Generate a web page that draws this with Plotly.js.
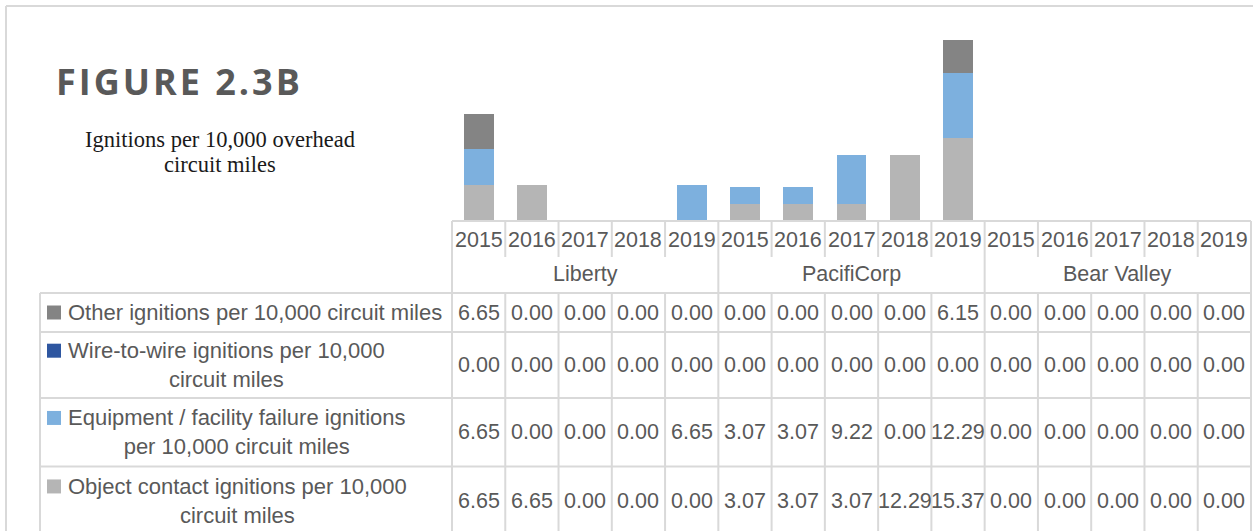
<!DOCTYPE html>
<html>
<head>
<meta charset="utf-8">
<script src="https://cdn.plot.ly/plotly-3.0.1.min.js"></script>
<style>
  html, body { margin: 0; padding: 0; background: #ffffff; }
  #chart { width: 1253px; height: 531px; }
</style>
</head>
<body>
<div id="chart"></div>
<script>
// ---------- data ----------
const companies = ['Liberty', 'PacifiCorp', 'Bear Valley'];
const years = ['2015', '2016', '2017', '2018', '2019'];

const seriesLabels = [
  'Other ignitions per 10,000 circuit miles',
  'Wire-to-wire ignitions per 10,000<br>circuit miles',
  'Equipment / facility failure ignitions<br>per 10,000 circuit miles',
  'Object contact ignitions per 10,000<br>circuit miles'
];

const otherVals  = [6.65, 0.00, 0.00, 0.00, 0.00,  0.00, 0.00, 0.00, 0.00, 6.15,   0.00, 0.00, 0.00, 0.00, 0.00];
const wireVals   = [0.00, 0.00, 0.00, 0.00, 0.00,  0.00, 0.00, 0.00, 0.00, 0.00,   0.00, 0.00, 0.00, 0.00, 0.00];
const equipVals  = [6.65, 0.00, 0.00, 0.00, 6.65,  3.07, 3.07, 9.22, 0.00, 12.29,  0.00, 0.00, 0.00, 0.00, 0.00];
const objectVals = [6.65, 6.65, 0.00, 0.00, 0.00,  3.07, 3.07, 3.07, 12.29, 15.37, 0.00, 0.00, 0.00, 0.00, 0.00];

// ---------- styling ----------
const colors = { other: '#848484', wire: '#2E56A0', equip: '#7DB0DE', object: '#B5B5B5' };
const textColor = '#595959';
const gridColor = '#D9D9D9';
const sansFont = "'Liberation Sans', Arial, sans-serif";

// table rows in display order (top to bottom)
const tableRows = [
  { label: seriesLabels[0], vals: otherVals,  color: colors.other  },
  { label: seriesLabels[1], vals: wireVals,   color: colors.wire   },
  { label: seriesLabels[2], vals: equipVals,  color: colors.equip  },
  { label: seriesLabels[3], vals: objectVals, color: colors.object }
];

// categories
const cats = [];
companies.forEach(c => years.forEach(y => cats.push(c + ' ' + y)));
const nCats = cats.length;

// ---------- geometry helpers (pixel -> paper) ----------
const W = 1253, H = 531;
const L = 452, R = 1251, T = 7, B = 220;
const px2x = px => (px - L) / (R - L);
const py2y = py => (B - py) / (B - T);
const colX = i => i / nCats; // paper x of boundary i

// ---------- traces (bottom to top) ----------
function barTrace(name, vals, color) {
  return {
    type: 'bar', name: name, x: cats, y: vals,
    marker: { color: color, line: { width: 0 } },
    hoverinfo: 'skip'
  };
}
const traces = [
  barTrace('Object contact', objectVals, colors.object),
  barTrace('Equipment / facility failure', equipVals, colors.equip),
  barTrace('Wire-to-wire', wireVals, colors.wire),
  barTrace('Other', otherVals, colors.other)
];

// ---------- table shapes ----------
const shapes = [];
const line = (x0, y0, x1, y1) => shapes.push({
  type: 'line', xref: 'paper', yref: 'paper',
  x0: x0, y0: y0, x1: x1, y1: y1,
  line: { color: gridColor, width: 2 }, layer: 'above'
});

// outer chart border (left & top)
line(px2x(6), py2y(6), px2x(6), py2y(H + 5));
line(px2x(6), py2y(6), px2x(W + 5), py2y(6));

const yAxis = 221, yTickEnd = 257, yTableTop = 293;
const rowBounds = [293, 332, 398, 466.5, 535];

// axis line
line(0, py2y(yAxis), 1, py2y(yAxis));
// table horizontal lines
for (let r = 0; r < rowBounds.length - 1; r++) {
  line(px2x(40), py2y(rowBounds[r]), 1, py2y(rowBounds[r]));
}
// row header left border
line(px2x(40), py2y(yTableTop), px2x(40), py2y(H + 5));
// vertical lines
for (let i = 0; i <= nCats; i++) {
  const x = colX(i);
  if (i % years.length === 0) {
    line(x, py2y(yAxis), x, py2y(H + 5));
  } else {
    line(x, py2y(yAxis), x, py2y(yTickEnd));
    line(x, py2y(yTableTop), x, py2y(H + 5));
  }
}

// ---------- annotations ----------
const annotations = [];
// year labels
cats.forEach((c, i) => {
  annotations.push({
    xref: 'x', yref: 'paper', x: c, y: py2y(239.5),
    text: years[i % years.length], showarrow: false,
    xanchor: 'center', yanchor: 'middle',
    font: { family: sansFont, size: 21.5, color: textColor }
  });
});
// company labels
companies.forEach((c, k) => {
  annotations.push({
    xref: 'paper', yref: 'paper', x: colX(k * years.length + years.length / 2), y: py2y(274),
    text: c, showarrow: false, xanchor: 'center', yanchor: 'middle',
    font: { family: sansFont, size: 21.5, color: textColor }
  });
});
// table rows
tableRows.forEach((row, r) => {
  const top = rowBounds[r], bot = rowBounds[r + 1];
  const mid = (top + bot) / 2;
  const twoLine = row.label.indexOf('<br>') >= 0;
  const firstLineY = twoLine ? mid - 14.3 : mid;
  // legend key
  shapes.push({
    type: 'rect', xref: 'paper', yref: 'paper',
    x0: px2x(47), x1: px2x(61), y0: py2y(firstLineY - 7), y1: py2y(firstLineY + 7),
    fillcolor: row.color, line: { width: 0 }, layer: 'above'
  });
  // header text
  annotations.push({
    xref: 'paper', yref: 'paper', x: px2x(66), y: py2y(mid),
    text: row.label, showarrow: false, xanchor: 'left', yanchor: 'middle', align: 'center',
    font: { family: sansFont, size: 22, color: textColor }
  });
  // values
  row.vals.forEach((v, i) => {
    annotations.push({
      xref: 'x', yref: 'paper', x: cats[i], y: py2y(mid),
      text: v.toFixed(2), showarrow: false, xanchor: 'center', yanchor: 'middle',
      font: { family: sansFont, size: 21.5, color: textColor }
    });
  });
});
// subtitle (two lines)
annotations.push({
  xref: 'paper', yref: 'paper', x: px2x(220), y: py2y(139),
  text: 'Ignitions per 10,000 overhead', showarrow: false, xanchor: 'center', yanchor: 'middle',
  font: { family: "'Liberation Serif', 'Times New Roman', serif", size: 22.5, color: '#1a1a1a' }
});
annotations.push({
  xref: 'paper', yref: 'paper', x: px2x(220), y: py2y(164),
  text: 'circuit miles', showarrow: false, xanchor: 'center', yanchor: 'middle',
  font: { family: "'Liberation Serif', 'Times New Roman', serif", size: 22.5, color: '#1a1a1a' }
});

// ---------- layout ----------
const layout = {
  width: W, height: H,
  margin: { l: L, r: W - R, t: T, b: H - B, pad: 0 },
  paper_bgcolor: '#ffffff', plot_bgcolor: '#ffffff',
  barmode: 'stack', bargap: 0.44,
  showlegend: false,
  title: {
    text: 'FIGURE 2.3B',
    font: { family: "'Open Sans', sans-serif", size: 36, color: textColor, weight: 700 },
    xref: 'container', yref: 'container',
    x: 56 / W, xanchor: 'left', y: 1 - 82 / H, yanchor: 'middle'
  },
  xaxis: {
    type: 'category', categoryarray: cats, range: [-0.5, nCats - 0.5],
    showticklabels: false, showgrid: false, zeroline: false, showline: false, ticks: '', fixedrange: true
  },
  yaxis: {
    range: [0, 40], visible: false, showgrid: false, zeroline: false, fixedrange: true
  },
  shapes: shapes,
  annotations: annotations
};

Plotly.newPlot('chart', traces, layout, { displayModeBar: false, staticPlot: true }).then(() => {
  const t = document.querySelector('.gtitle');
  if (t) t.style.letterSpacing = '3px';
});
</script>
</body>
</html>
